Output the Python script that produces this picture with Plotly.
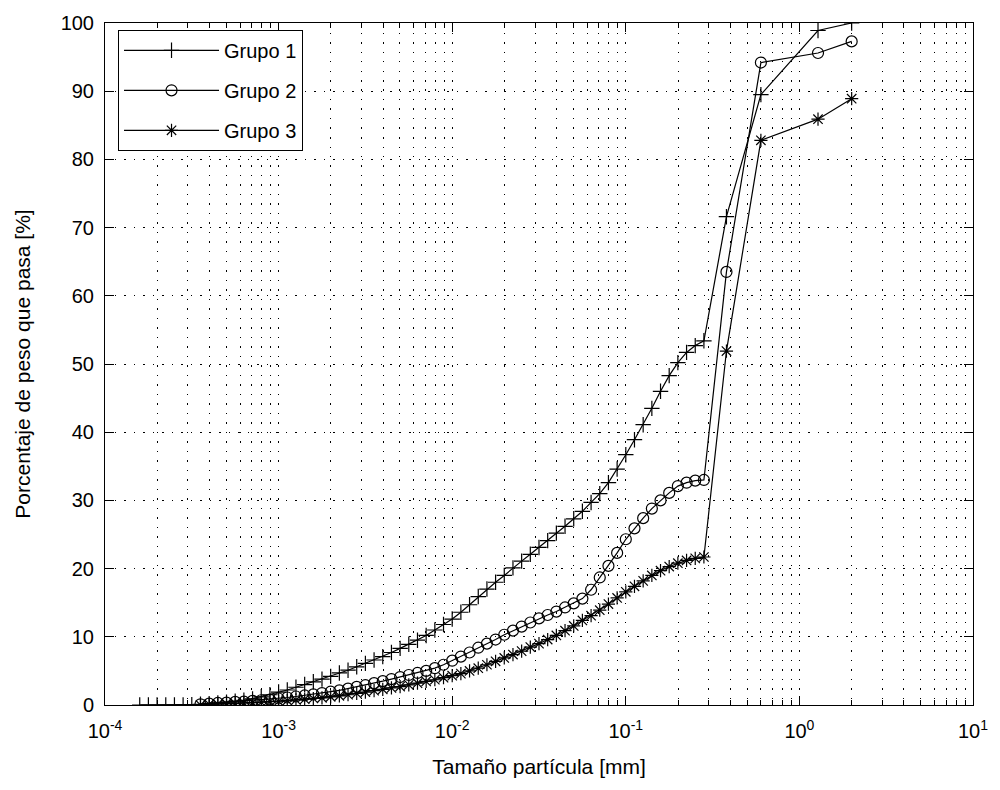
import plotly.graph_objects as go

# Laser diffraction bin sizes [mm]
laser_sizes = [
    1.585e-4, 1.778e-4, 1.995e-4, 2.239e-4, 2.512e-4, 2.818e-4, 3.162e-4, 3.548e-4,
    3.981e-4, 4.467e-4, 5.012e-4, 5.623e-4, 6.310e-4, 7.079e-4, 7.943e-4, 8.913e-4,
    1.000e-3, 1.122e-3, 1.259e-3, 1.413e-3, 1.585e-3, 1.778e-3, 1.995e-3, 2.239e-3,
    2.512e-3, 2.818e-3, 3.162e-3, 3.548e-3, 3.981e-3, 4.467e-3, 5.012e-3, 5.623e-3,
    6.310e-3, 7.079e-3, 7.943e-3, 8.913e-3,
    1.000e-2, 1.122e-2, 1.259e-2, 1.413e-2, 1.585e-2, 1.778e-2, 1.995e-2, 2.239e-2,
    2.512e-2, 2.818e-2, 3.162e-2, 3.548e-2, 3.981e-2, 4.467e-2, 5.012e-2, 5.623e-2,
    6.310e-2, 7.079e-2, 7.943e-2, 8.913e-2,
    1.000e-1, 1.122e-1, 1.259e-1, 1.413e-1, 1.585e-1, 1.778e-1, 1.995e-1, 2.239e-1,
    2.512e-1, 2.818e-1,
]

# Sieve sizes [mm]
sieve_sizes = [0.38, 0.6, 1.28, 2.0]

grupo1_laser = [
    0, 0, 0, 0, 0, 0,
    0.05, 0.1, 0.2, 0.3, 0.4, 0.55, 0.7, 0.9, 1.2, 1.5,
    1.9, 2.2, 2.6, 3.0, 3.4, 3.8, 4.2, 4.7, 5.1, 5.6, 6.1, 6.6, 7.1, 7.7, 8.3, 8.9,
    9.5, 10.2, 11.0, 11.8,
    12.6, 13.6, 14.7, 15.9, 17.0, 18.0, 19.0, 20.1, 21.1, 22.1, 23.1, 24.1, 25.2,
    26.2, 27.3, 28.4, 29.7, 31.0, 32.6, 34.6,
    36.7, 38.9, 41.1, 43.5, 46.0, 48.3, 50.2, 51.7, 52.7, 53.4,
]
grupo2_laser = [
    None, None, None, None, None, None, None,
    0.1, 0.2, 0.3, 0.35, 0.45, 0.5, 0.6, 0.7, 0.8,
    0.95, 1.1, 1.25, 1.4, 1.55, 1.75, 1.95, 2.15, 2.4, 2.65, 2.9, 3.2, 3.5, 3.8,
    4.1, 4.4, 4.7, 5.0, 5.4, 5.9,
    6.5, 7.1, 7.7, 8.4, 9.0, 9.6, 10.3, 10.9, 11.5, 12.1, 12.7, 13.2, 13.7, 14.3,
    14.9, 15.6, 16.9, 18.7, 20.4, 22.3,
    24.3, 25.9, 27.4, 28.8, 30.0, 31.1, 32.1, 32.6, 32.9, 33.0,
]
grupo3_laser = [
    None, None, None, None, None, None, None,
    0, 0.1, 0.15, 0.2, 0.25, 0.3, 0.35, 0.4, 0.5,
    0.55, 0.65, 0.75, 0.85, 0.95, 1.05, 1.2, 1.35, 1.5, 1.7, 1.9, 2.1, 2.3, 2.5,
    2.7, 2.95, 3.2, 3.45, 3.7, 4.0,
    4.3, 4.6, 5.0, 5.4, 5.9, 6.4, 6.9, 7.4, 7.9, 8.5, 9.0, 9.6, 10.2, 10.9,
    11.6, 12.4, 13.1, 13.9, 14.8, 15.7,
    16.6, 17.4, 18.2, 19.0, 19.7, 20.3, 20.8, 21.2, 21.5, 21.7,
]

grupo1_sieve = [71.6, 89.5, 98.9, 100.0]
grupo2_sieve = [63.5, 94.2, 95.6, 97.3]
grupo3_sieve = [51.9, 82.8, 85.9, 88.9]

series_names = ["Grupo 1", "Grupo 2", "Grupo 3"]
symbols = ["cross-thin-open", "circle-open", "asterisk-open"]

x_tick_vals = [1e-4, 1e-3, 1e-2, 1e-1, 1e0, 1e1]
x_tick_text = ["10<sup>-4</sup>", "10<sup>-3</sup>", "10<sup>-2</sup>",
               "10<sup>-1</sup>", "10<sup>0</sup>", "10<sup>1</sup>"]
y_tick_vals = [0, 10, 20, 30, 40, 50, 60, 70, 80, 90, 100]

FONT = "Liberation Sans, Arial, sans-serif"

fig = go.Figure()
all_laser = [grupo1_laser, grupo2_laser, grupo3_laser]
all_sieve = [grupo1_sieve, grupo2_sieve, grupo3_sieve]
for name, sym, lv, sv in zip(series_names, symbols, all_laser, all_sieve):
    xs = [x for x, v in zip(laser_sizes, lv) if v is not None] + sieve_sizes
    ys = [v for v in lv if v is not None] + sv
    fig.add_trace(go.Scatter(
        x=xs, y=ys, mode="lines+markers", name=name, legendgroup=name,
        line=dict(color="black", width=1.2),
        marker=dict(symbol=sym, size=11, color="black",
                    line=dict(color="black", width=1.2)),
    ))

minor_vals = [m * 10.0 ** e for e in range(-4, 1) for m in range(2, 10)]
GRID_DASH = "1.5px,8px"

fig.update_layout(
    width=1000, height=790,
    margin=dict(l=105, r=20, t=15, b=85),
    paper_bgcolor="white", plot_bgcolor="white",
    font=dict(family=FONT, size=20, color="black"),
    showlegend=True,
    legend=dict(x=0.015, y=0.99, xanchor="left", yanchor="top",
                bgcolor="white", bordercolor="black", borderwidth=1,
                font=dict(size=20), itemwidth=95, traceorder="grouped",
                tracegroupgap=11, entrywidth=200, entrywidthmode="pixels"),
)
fig.update_xaxes(
    type="log", range=[-4, 1],
    tickvals=x_tick_vals, ticktext=x_tick_text,
    ticks="inside", ticklen=9, tickcolor="black", ticklabelstandoff=8,
    showline=True, linecolor="black", linewidth=1, mirror="allticks",
    showgrid=True, gridcolor="black", gridwidth=1, griddash=GRID_DASH,
    zeroline=False,
    minor=dict(tickvals=minor_vals, ticks="inside", ticklen=5, tickcolor="black",
               showgrid=True, gridcolor="black", gridwidth=1, griddash=GRID_DASH),
    title=dict(text="Tamaño partícula [mm]", font=dict(size=21), standoff=18),
    tickfont=dict(size=20),
)
fig.update_yaxes(
    range=[0, 100], tickvals=y_tick_vals,
    ticks="inside", ticklen=9, tickcolor="black", ticklabelstandoff=6,
    showline=True, linecolor="black", linewidth=1, mirror="allticks",
    showgrid=True, gridcolor="black", gridwidth=1, griddash=GRID_DASH,
    zeroline=False,
    title=dict(text="Porcentaje de peso que pasa [%]", font=dict(size=21), standoff=24),
    tickfont=dict(size=20),
)

fig.write_html("out.html")
